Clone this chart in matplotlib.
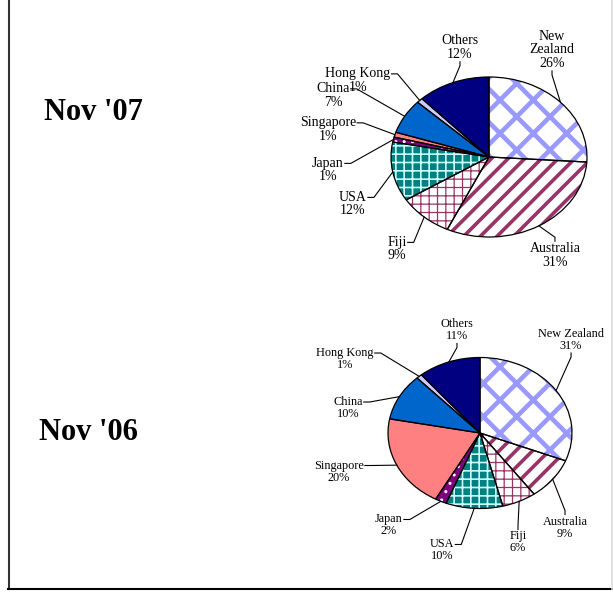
import matplotlib
matplotlib.use('Agg')
import matplotlib.pyplot as plt
import numpy as np
from matplotlib.lines import Line2D

# ---------------- data ----------------
categories = ['New Zealand', 'Australia', 'Fiji', 'USA', 'Japan',
              'Singapore', 'China', 'Hong Kong', 'Others']
values_nov07 = [26, 31, 9, 12, 1, 1, 7, 1, 12]
values_nov06 = [31, 9, 6, 10, 2, 20, 10, 1, 11]
title_nov07 = "Nov '07"
title_nov06 = "Nov '06"

# ---------------- styles ----------------
face_colors = ['white', 'white', 'white', '#008080', '#800080',
               '#FF8080', '#0066CC', '#CCCCFF', '#000080']
hatch_colors = ['#9999FF', '#993366', '#993366', '#CCFFFF', 'white',
                None, None, None, None]
hatches = ['x', '//', '++', '++', '..', None, None, None, None]
hatch_lws = [3.3, 2.6, 0.9, 1.2, 1.0, 1, 1, 1, 1]

plt.rcParams['hatch.linewidth'] = 2.5
plt.rcParams['font.family'] = ['Liberation Serif', 'DejaVu Serif']

W, H = 613, 592
fig = plt.figure(figsize=(W / 100, H / 100), dpi=100)
fig.patch.set_facecolor('white')

LIM = 1.25


def px_axes(cx, cy, rx, ry):
    w = 2 * LIM * rx
    h = 2 * LIM * ry
    return fig.add_axes([(cx - w / 2) / W, (H - cy - h / 2) / H, w / W, h / H])


def draw_pie(ax, values, labels, label_pos, fontsize, linespacing):
    wedges, _ = ax.pie(values, startangle=90, counterclock=False,
                       colors=face_colors, wedgeprops=dict(linewidth=0))
    for w, fc, hc, h, hl in zip(wedges, face_colors, hatch_colors, hatches, hatch_lws):
        if h:
            w.set_hatch(h)
            w.set_edgecolor(hc)
            if hasattr(w, 'set_hatch_linewidth'):
                w.set_hatch_linewidth(hl)
            else:
                w._hatch_linewidth = hl
        else:
            w.set_edgecolor(fc)
        w.set_linewidth(0)
    ax.pie(values, startangle=90, counterclock=False,
           colors=['none'] * len(values),
           wedgeprops=dict(linewidth=0.9, edgecolor='black'))
    ax.set_aspect('auto')
    ax.set_xlim(-LIM, LIM)
    ax.set_ylim(-LIM, LIM)
    texts = []
    for lab, (lx, ly) in zip(labels, label_pos):
        t = ax.text(lx, ly, lab, ha='center', va='center', fontsize=fontsize,
                    linespacing=linespacing, multialignment='center')
        texts.append(t)
    total = float(sum(values))
    cum = np.cumsum([0] + list(values))
    mids = [np.deg2rad(90 - 360 * (cum[i] + values[i] / 2) / total)
            for i in range(len(values))]
    return texts, mids


# ---------- Nov '07 ----------
ax1 = px_axes(489, 157, 98, 80)
labels07 = ['New\nZealand\n26%', 'Australia\n31%', 'Fiji\n9%', 'USA\n12%',
            'Japan\n1%', 'Singapore\n1%', 'China\n7%', 'Hong Kong\n1%',
            'Others\n12%']
pos07 = [(0.643, 1.338), (0.673, -1.231), (-0.939, -1.15), (-1.388, -0.588),
         (-1.643, -0.1625), (-1.643, 0.344), (-1.592, 0.769), (-1.337, 0.956),
         (-0.296, 1.369)]
sides07 = ['B', 'T', 'L', 'L', 'L', 'L', 'L', 'L', 'B']
t1, m1 = draw_pie(ax1, values_nov07, labels07, pos07, 10, 1.05)

# ---------- Nov '06 ----------
ax2 = px_axes(480, 433, 92, 75.5)
labels06 = ['New Zealand\n31%', 'Australia\n9%', 'Fiji\n6%', 'USA\n10%',
            'Japan\n2%', 'Singapore\n20%', 'China\n10%', 'Hong Kong\n1%',
            'Others\n11%']
pos06 = [(0.99, 1.232), (0.924, -1.252), (0.413, -1.450), (-0.413, -1.556),
         (-0.989, -1.225), (-1.533, -0.51), (-1.435, 0.331), (-1.467, 0.980),
         (-0.25, 1.358)]
sides06 = ['B', 'T', 'T', 'L', 'L', 'L', 'L', 'L', 'B']
t2, m2 = draw_pie(ax2, values_nov06, labels06, pos06, 8.8, 1.0)

# titles
fig.text(93 / W, 1 - 112 / H, title_nov07, ha='center', va='center',
         fontsize=22, fontweight='bold')
fig.text(88.5 / W, 1 - 433 / H, title_nov06, ha='center', va='center',
         fontsize=22, fontweight='bold')

# leader lines
fig.canvas.draw()
rend = fig.canvas.get_renderer()
for ax, texts, mids, sides in [(ax1, t1, m1, sides07), (ax2, t2, m2, sides06)]:
    inv = ax.transData.inverted()
    for t, th, side in zip(texts, mids, sides):
        bb = t.get_window_extent(rend)
        n = t.get_text().count('\n') + 1
        lh = bb.height / n
        if side == 'L':
            A = (bb.x1 + 1, bb.y1 - lh / 2)
            B = (A[0] + 6, A[1])
        elif side == 'R':
            A = (bb.x0 - 1, bb.y1 - lh / 2)
            B = (A[0] - 6, A[1])
        elif side == 'B':
            A = ((bb.x0 + bb.x1) / 2, bb.y0 - 1)
            B = (A[0], A[1] - 4)
        else:
            A = ((bb.x0 + bb.x1) / 2, bb.y1 + 1)
            B = (A[0], A[1] + 4)
        E = ax.transData.transform((np.cos(th), np.sin(th)))
        pts = inv.transform(np.array([A, B, E]))
        ax.plot(pts[:, 0], pts[:, 1], color='black', lw=0.8, clip_on=False)

# frame lines
fig.add_artist(Line2D([8.5 / W, 8.5 / W], [3 / H, 1], color='#333333', lw=1.5,
                      transform=fig.transFigure))
fig.add_artist(Line2D([8 / W, 1], [3 / H, 3 / H], color='black', lw=1.5,
                      transform=fig.transFigure))
fig.add_artist(Line2D([611.5 / W, 611.5 / W], [3 / H, 1], color='#DDDDDD', lw=1.2,
                      transform=fig.transFigure))

fig.savefig('out.png', dpi=100, facecolor='white')
